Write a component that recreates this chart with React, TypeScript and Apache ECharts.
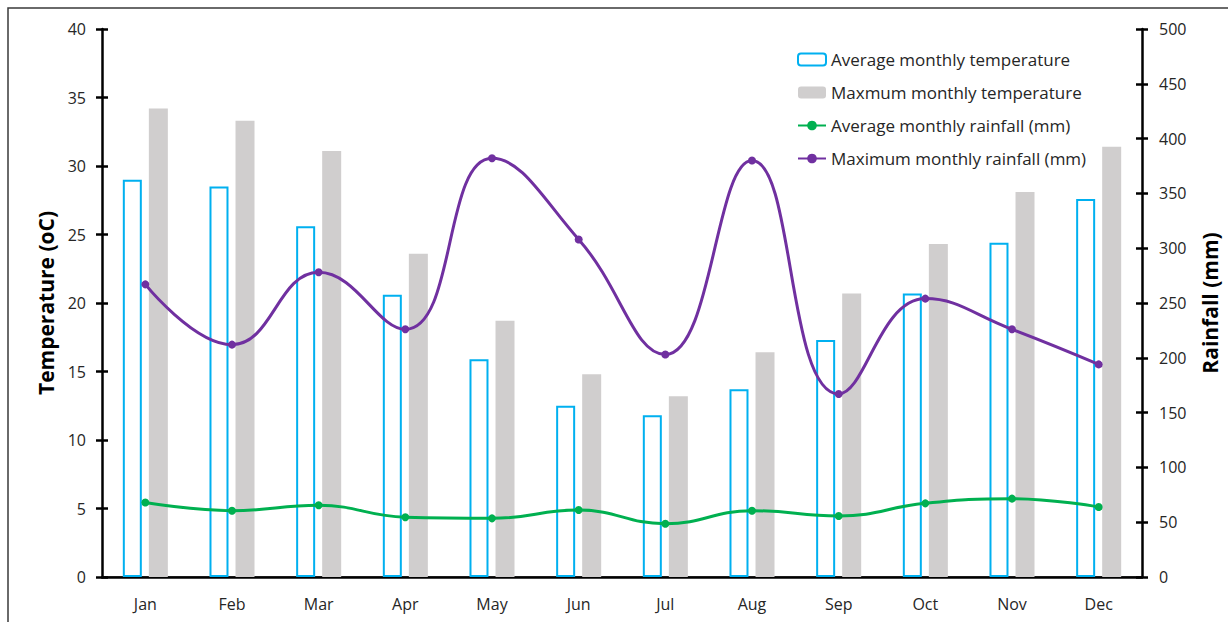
import React, { useEffect, useRef } from "react";
import * as echarts from "echarts";

const months = ["Jan", "Feb", "Mar", "Apr", "May", "Jun", "Jul", "Aug", "Sep", "Oct", "Nov", "Dec"];
const avgTemp = [29.0, 28.5, 25.6, 20.6, 15.9, 12.5, 11.8, 13.7, 17.3, 20.7, 24.4, 27.6];
const maxTemp = [34.2, 33.3, 31.1, 23.6, 18.7, 14.8, 13.2, 16.4, 20.7, 24.3, 28.1, 31.4];
const avgRain = [68, 60.5, 65.4, 54.5, 53.5, 61.1, 48.6, 60.5, 55.7, 67.2, 71.5, 63.9];
const maxRain = [267, 212, 278, 226, 382, 308, 203, 380, 167, 254, 226, 194];

const tempTicks = { min: 0, max: 40, interval: 5 };
const rainTicks = { min: 0, max: 500, interval: 50 };

const FONT = "'Open Sans', 'Noto Sans', sans-serif";
const TXT = "#262626";

export default function App() {
  const ref = useRef<HTMLDivElement>(null);
  useEffect(() => {
    if (!ref.current) return;
    const chart = echarts.init(ref.current, undefined, { renderer: "svg" });
    const axisLineStyle = { color: "#000", width: 2.5 };
    const baseY = (side: string, t: any) => ({
      type: "value",
      position: side,
      min: t.min,
      max: t.max,
      interval: t.interval,
      splitLine: { show: false },
    });
    chart.setOption({
      animation: false,
      textStyle: { fontFamily: FONT },
      grid: { left: 102, right: 82, top: 29, bottom: 45 },
      graphic: [
        {
          type: "rect",
          shape: { x: 8, y: 8, width: 1240, height: 640 },
          style: { fill: "none", stroke: "#3a3a3a", lineWidth: 1.5 },
          silent: true,
          z: -1,
        },
      ],
      legend: {
        orient: "vertical",
        left: 792,
        top: 46,
        itemGap: 16,
        itemWidth: 28,
        itemHeight: 12,
        textStyle: { fontFamily: FONT, fontSize: 17, color: TXT },
        data: [
          "Average monthly temperature",
          "Maxmum monthly temperature",
          "Average monthly rainfall (mm)",
          "Maximum monthly rainfall (mm)",
        ],
      },
      xAxis: [
        {
          type: "category",
          data: months,
          position: "bottom",
          axisLine: { lineStyle: { color: "#3a3a3a", width: 1.5 } },
          axisTick: { show: false },
          axisLabel: { color: TXT, fontSize: 16, margin: 19, fontFamily: FONT },
        },
        {
          type: "category",
          data: months,
          position: "top",
          axisLine: { lineStyle: axisLineStyle },
          axisTick: { show: false },
          axisLabel: { show: false },
        },
      ],
      yAxis: [
        {
          ...baseY("left", tempTicks),
          name: "Temperature (oC)",
          nameLocation: "middle",
          nameGap: 46,
          nameTextStyle: { fontSize: 21, fontWeight: "bold", color: "#000", fontFamily: FONT },
          axisLine: { show: true, lineStyle: axisLineStyle },
          axisTick: { show: true, length: 6, lineStyle: { color: "#000", width: 2.5 } },
          axisLabel: { color: TXT, fontSize: 16, margin: 16, fontFamily: FONT },
        },
        {
          ...baseY("right", rainTicks),
          name: "Rainfall (mm)",
          nameLocation: "middle",
          nameGap: 57,
          nameRotate: 90,
          nameTextStyle: { fontSize: 21, fontWeight: "bold", color: "#000", fontFamily: FONT },
          axisLine: { show: true, lineStyle: axisLineStyle },
          axisTick: { show: true, length: 6, lineStyle: { color: "#000", width: 2.5 } },
          axisLabel: { color: TXT, fontSize: 16, margin: 17, fontFamily: FONT },
        },
        {
          ...baseY("left", tempTicks),
          axisLine: { show: false },
          axisTick: { show: true, inside: true, length: 6, lineStyle: { color: "#000", width: 2.5 } },
          axisLabel: { show: false },
        },
        {
          ...baseY("right", rainTicks),
          axisLine: { show: false },
          axisTick: { show: true, inside: true, length: 6, lineStyle: { color: "#000", width: 2.5 } },
          axisLabel: { show: false },
        },
      ],
      series: [
        {
          name: "Average monthly temperature",
          type: "bar",
          yAxisIndex: 0,
          data: avgTemp,
          barWidth: 19,
          barGap: "37%",
          itemStyle: { color: "#ffffff", borderColor: "#00B0F0", borderWidth: 2 },
        },
        {
          name: "Maxmum monthly temperature",
          type: "bar",
          yAxisIndex: 0,
          data: maxTemp,
          barWidth: 19,
          barGap: "37%",
          itemStyle: { color: "#D0CECE" },
        },
        {
          name: "Average monthly rainfall (mm)",
          type: "line",
          yAxisIndex: 1,
          data: avgRain,
          smooth: 0.45,
          symbol: "circle",
          symbolSize: 8,
          lineStyle: { color: "#00B050", width: 3 },
          itemStyle: { color: "#00B050" },
          z: 5,
        },
        {
          name: "Maximum monthly rainfall (mm)",
          type: "line",
          yAxisIndex: 1,
          data: maxRain,
          smooth: 0.45,
          symbol: "circle",
          symbolSize: 8,
          lineStyle: { color: "#7030A0", width: 3 },
          itemStyle: { color: "#7030A0" },
          z: 5,
        },
      ],
    });
    return () => chart.dispose();
  }, []);
  return (
    <div
      ref={ref}
      style={{ position: "fixed", left: 0, top: 0, width: 1228, height: 622, background: "#fff" }}
    />
  );
}
